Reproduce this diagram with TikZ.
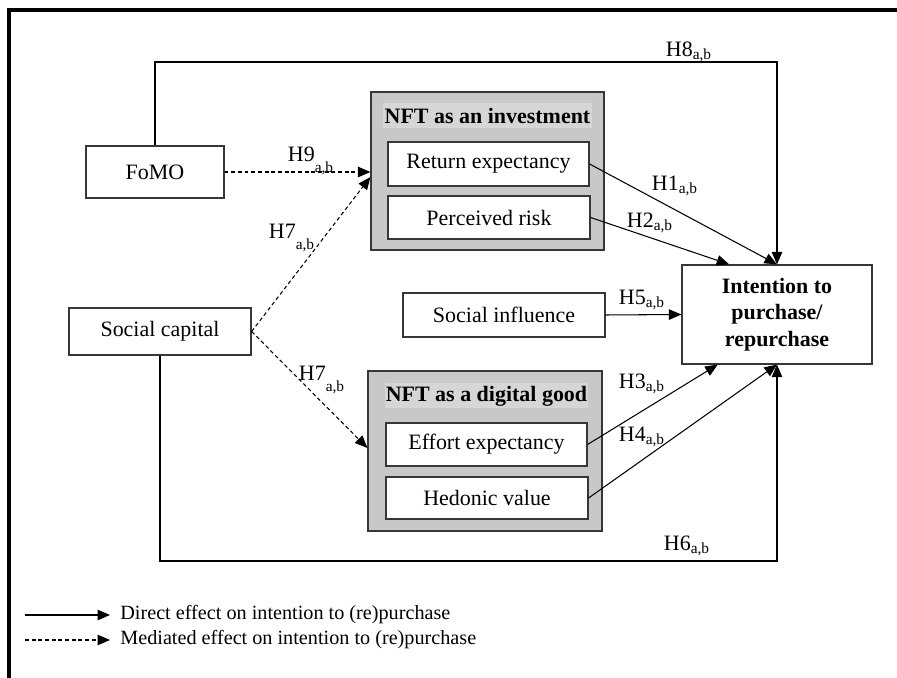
\documentclass[tikz,border=0pt]{standalone}
\usepackage{fontspec}
\setmainfont{Liberation Serif}
\usetikzlibrary{arrows.meta,calc,positioning}
\definecolor{groupgray}{RGB}{200,200,200}
\definecolor{titlegray}{RGB}{214,214,214}
\definecolor{boxline}{RGB}{55,55,55}
\newcommand{\hyp}[1]{H#1\textsubscript{a,b}}
\newcommand{\hyplow}[1]{H#1\raisebox{-0.7ex}{\textsubscript{a,b}}}

\begin{document}
\begin{tikzpicture}
  [
  x=0.02cm, y=-0.02cm,
  font=\fontsize{12.5}{15}\selectfont,
  >={Triangle[length=2.5mm,width=2.1mm]},
  varbox/.style={rectangle, inner sep=0pt, draw=boxline, line width=0.7pt, fill=white},
  groupbox/.style={rectangle, draw=boxline, line width=0.7pt, fill=groupgray},
  titlebar/.style={fill=titlegray, inner sep=0pt, minimum height=0.5cm, font=\fontsize{12.5}{15}\selectfont\bfseries},
  direct/.style={->, line width=0.6pt, draw=black},
  mediated/.style={->, line width=0.6pt, dash pattern=on 2.2pt off 1.6pt},
  hlabel/.style={inner sep=0pt},
  ]

  \useasboundingbox (0,0) rectangle (897,678);
  \draw[line width=1.8pt] (9,678) -- (9,10) -- (897,10);

  % antecedents
  \node[varbox, minimum width=2.76cm, minimum height=1.04cm] (fomo) at (155,172) {FoMO};
  \node[varbox, minimum width=3.64cm, minimum height=0.94cm] (soccap) at (160,331.5) {Social capital};

  % NFT as an investment
  \node[groupbox, minimum width=4.66cm, minimum height=3.16cm] (invest) at (487.5,171) {};
  \node[titlebar, minimum width=4.18cm] (investtitle) at (487.5,115.5) {NFT as an investment};
  \node[varbox, minimum width=4.02cm, minimum height=0.88cm] (retexp) at (488.5,164) {Return expectancy};
  \node[varbox, minimum width=4.04cm, minimum height=0.86cm] (risk) at (489,217.5) {Perceived risk};

  % NFT as a digital good
  \node[groupbox, minimum width=4.68cm, minimum height=3.2cm] (digital) at (485,451) {};
  \node[titlebar, minimum width=4.06cm] (digitaltitle) at (486.5,396) {NFT as a digital good};
  \node[varbox, minimum width=4.02cm, minimum height=0.86cm] (effexp) at (486.5,444.5) {Effort expectancy};
  \node[varbox, minimum width=4.04cm, minimum height=0.84cm] (hedval) at (487,498) {Hedonic value};

  \node[varbox, minimum width=4.04cm, minimum height=0.88cm] (socinf) at (504,315) {Social influence};
  \node[varbox, minimum width=3.8cm, minimum height=1.98cm, align=center,
        font=\fontsize{12.5}{15}\selectfont\bfseries] (intent) at (777,314.5) {Intention to\\purchase/\\repurchase};

  % direct effects
  \coordinate (h8top) at (777,62);
  \coordinate (h6bot) at (777,561);
  \draw[direct] (fomo.north) |- (h8top) -- (intent.north);
  \draw[direct] (soccap.south) |- (h6bot) -- (intent.south);
  \draw[direct] (retexp.east) -- (intent.north);
  \draw[direct] (risk.east) -- ($(intent.north west)!0.25!(intent.north east)$);
  \draw[direct] (socinf.east) -- (intent.west);
  \draw[direct] (effexp.east) -- ($(intent.south west)!0.19!(intent.south east)$);
  \draw[direct] (hedval.east) -- (intent.south);

  % mediated effects
  \draw[mediated] (fomo.east) -- (fomo.east -| invest.west);
  \draw[mediated] (soccap.east) -- ([yshift=-0.1cm]fomo.east -| invest.west);
  \draw[mediated] (soccap.east) -- ([yshift=0.06cm]digital.west);

  \node[hlabel] (h8) at (689,52) {\hyp{8}};
  \node[hlabel] (h1) at (675,186) {\hyp{1}};
  \node[hlabel] (h2) at (650,223) {\hyp{2}};
  \node[hlabel] (h5) at (642,300) {\hyp{5}};
  \node[hlabel] (h3) at (642,384) {\hyp{3}};
  \node[hlabel] (h4) at (642,437) {\hyp{4}};
  \node[hlabel] (h6) at (687,546) {\hyp{6}};
  \node[hlabel] (h9) at (311,161) {\hyplow{9}};
  \node[hlabel] (h7a) at (292,238) {\hyplow{7}};
  \node[hlabel] (h7b) at (322,380) {\hyplow{7}};

  % legend
  \coordinate (legdirect) at (25,615);
  \coordinate (legmediated) at (25,640);
  \node[hlabel, anchor=west, font=\fontsize{11.5}{14}\selectfont] (directtxt) at (120,615) {Direct effect on intention to (re)purchase};
  \node[hlabel, anchor=west, font=\fontsize{11.5}{14}\selectfont] (mediatedtxt) at (120,640) {Mediated effect on intention to (re)purchase};
  \draw[direct] (legdirect) -- (legdirect -| 110,0);
  \draw[mediated] (legmediated) -- (legmediated -| 110,0);
\end{tikzpicture}
\end{document}
